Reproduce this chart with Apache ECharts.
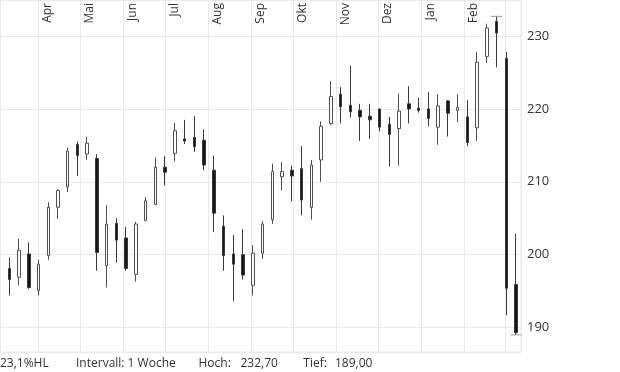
<!DOCTYPE html>
<html><head><meta charset="utf-8">
<script src="https://cdn.jsdelivr.net/npm/echarts@6/dist/echarts.min.js"></script>
<style>html,body{margin:0;padding:0;background:#fff}#c{width:620px;height:372px}</style>
</head><body><div id="c"></div>
<script>
const dates = ['2019-03-11','2019-03-18','2019-03-25','2019-04-01','2019-04-08','2019-04-15','2019-04-22','2019-04-29',
 '2019-05-06','2019-05-13','2019-05-20','2019-05-27','2019-06-03','2019-06-10','2019-06-17','2019-06-24',
 '2019-07-01','2019-07-08','2019-07-15','2019-07-22','2019-07-29','2019-08-05','2019-08-12','2019-08-19','2019-08-26',
 '2019-09-02','2019-09-09','2019-09-16','2019-09-23','2019-09-30','2019-10-07','2019-10-14','2019-10-21','2019-10-28',
 '2019-11-04','2019-11-11','2019-11-18','2019-11-25','2019-12-02','2019-12-09','2019-12-16','2019-12-23','2019-12-30',
 '2020-01-06','2020-01-13','2020-01-20','2020-01-27','2020-02-03','2020-02-10','2020-02-17','2020-02-24','2020-03-02','2020-03-09'];
const opens  = [198.1,196.9,200.1,195.1,199.9,206.5,209.3,215.1,213.8,213.2,198.5,204.3,202.3,197.3,204.7,206.9,
 212.0,213.9,215.9,216.1,215.7,211.6,203.9,200.1,200.0,195.8,200.2,204.8,210.7,211.6,211.8,206.5,213.0,218.0,
 222.0,220.5,219.8,219.0,220.0,217.9,217.3,220.7,220.1,220.0,217.5,221.1,219.8,218.9,217.4,227.2,232.0,226.9,195.9];
const closes = [196.6,200.6,195.5,198.7,206.5,208.8,214.2,213.6,215.3,200.3,204.2,202.0,198.1,204.2,207.4,212.0,
 211.3,217.0,215.6,214.8,212.3,205.7,199.9,198.7,197.2,200.2,204.2,211.4,211.4,210.8,207.5,212.3,217.6,221.7,
 220.3,219.6,218.9,218.5,217.5,216.5,219.7,220.0,219.8,218.7,220.4,219.4,220.2,215.4,226.4,231.1,230.4,195.4,189.3];
const lows   = [194.4,195.8,195.3,194.4,199.3,204.9,208.6,210.8,213.0,197.8,195.5,198.9,197.8,196.3,204.6,206.8,
 209.5,212.8,215.2,214.1,211.6,203.1,197.8,193.6,196.6,194.4,199.4,204.2,208.8,207.3,205.4,204.8,210.0,217.8,
 218.0,218.8,215.6,215.9,216.9,212.1,212.2,218.0,219.5,217.6,215.1,216.2,218.2,214.9,215.6,226.3,225.7,191.7,189.0];
const highs  = [199.6,202.2,201.7,199.3,207.2,209.0,214.7,215.5,216.2,213.8,206.8,205.0,203.8,204.5,207.9,213.3,
 213.5,218.1,218.5,219.0,217.2,213.6,205.4,202.7,203.5,201.3,204.6,212.5,212.7,212.2,214.9,213.0,218.3,223.8,
 223.0,225.9,220.7,220.7,220.0,218.9,222.1,223.1,221.5,222.3,222.0,221.2,222.0,221.2,227.8,231.7,232.7,227.8,202.9];
const monthLabels = ['Jan','Feb','','Apr','Mai','Jun','Jul','Aug','Sep','Okt','Nov','Dez'];
const intervalLabel = 'Intervall: 1 Woche';
const highLabel = 'Hoch:';
const lowLabel = 'Tief:';

const candles = dates.map((d, i) => [d, opens[i], closes[i], lows[i], highs[i]]);
const maxHigh = Math.max(...highs), iH = highs.indexOf(maxHigh);
const minLow = Math.min(...lows), iL = lows.indexOf(minLow);
const de = (v, n) => v.toFixed(n).replace('.', ',');
const hlText = de((maxHigh - minLow) / minLow * 100, 1) + '%HL';

const FONT = 'Open Sans';
const TXT = '#333';
const GRIDC = '#e9e9e9';
const DAY = 86400000;

const chart = echarts.init(document.getElementById('c'), null, {renderer: 'canvas'});
chart.setOption({
  animation: false,
  backgroundColor: '#fff',
  grid: {left: 0, right: 99, top: 0, bottom: 20, show: true, borderColor: GRIDC, borderWidth: 1, outerBoundsMode: 'none'},
  xAxis: {
    type: 'time', position: 'top',
    min: new Date(2019, 2, 4, 8).getTime(), max: new Date(2020, 2, 12, 14).getTime(),
    splitNumber: 12, minInterval: 31 * DAY, maxInterval: 31 * DAY,
    axisLine: {show: false}, axisTick: {show: false},
    splitLine: {show: true, lineStyle: {color: GRIDC, width: 1}},
    axisLabel: {
      inside: true, rotate: -90, margin: 3, align: 'right', verticalAlign: 'top', padding: [3, 0, 0, 0],
      fontSize: 12, fontFamily: FONT, color: TXT, hideOverlap: false,
      formatter: (v) => monthLabels[new Date(v).getMonth()]
    }
  },
  yAxis: {
    type: 'value', position: 'right', min: 186.65, max: 234.94, splitNumber: 5,
    axisLine: {show: false}, axisTick: {show: false},
    splitLine: {show: true, lineStyle: {color: GRIDC, width: 1}},
    axisLabel: {margin: 6, fontSize: 13, fontFamily: FONT, color: TXT, showMinLabel: false, showMaxLabel: false}
  },
  series: [{
    type: 'candlestick',
    data: candles,
    barWidth: 3,
    itemStyle: {color: '#fff', color0: '#151515', borderColor: '#505050', borderColor0: '#3a3a3a', borderWidth: 1},
    markPoint: {
      symbol: 'rect', symbolSize: [11, 1], silent: true,
      itemStyle: {color: '#999'}, label: {show: false},
      data: [{coord: [dates[iH], maxHigh]}, {coord: [dates[iL], minLow]}]
    }
  }],
  graphic: [
    {type: 'text', x: 0, y: 364, style: {text: hlText, fontSize: 12, fontFamily: FONT, fill: TXT, verticalAlign: 'middle'}},
    {type: 'text', x: 76, y: 364, style: {text: intervalLabel, fontSize: 12, fontFamily: FONT, fill: TXT, verticalAlign: 'middle'}},
    {type: 'text', x: 198.5, y: 364, style: {text: highLabel, fontSize: 12, fontFamily: FONT, fill: TXT, verticalAlign: 'middle'}},
    {type: 'text', x: 240.5, y: 364, style: {text: de(maxHigh, 2), fontSize: 12, fontFamily: FONT, fill: TXT, verticalAlign: 'middle'}},
    {type: 'text', x: 303.3, y: 364, style: {text: lowLabel, fontSize: 12, fontFamily: FONT, fill: TXT, verticalAlign: 'middle'}},
    {type: 'text', x: 335, y: 364, style: {text: de(minLow, 2), fontSize: 12, fontFamily: FONT, fill: TXT, verticalAlign: 'middle'}}
  ]
});
</script></body></html>
